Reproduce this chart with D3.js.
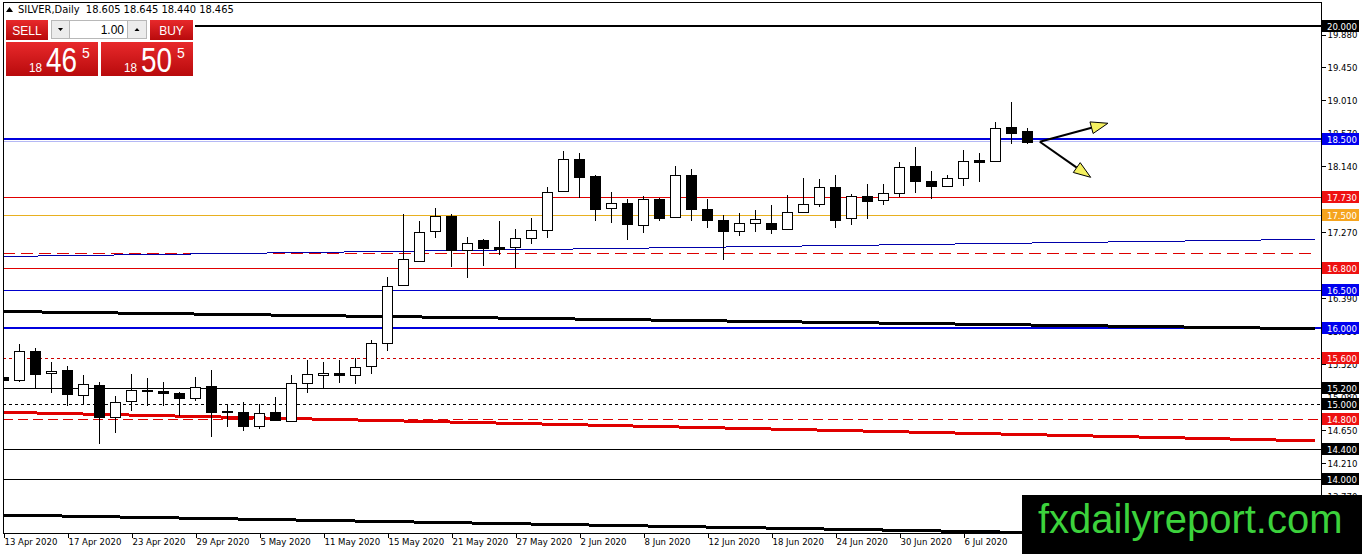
<!DOCTYPE html>
<html>
<head>
<meta charset="utf-8">
<script src="https://cdn.jsdelivr.net/npm/d3@7"></script>
<style>
body { margin: 0; background: #fff; }
svg { display: block; font-family: Tahoma, "DejaVu Sans Condensed", "DejaVu Sans", sans-serif; }
</style>
</head>
<body>
<svg id="chart" width="1362" height="554"></svg>
<script>
// ---- data ----
const symbol = "SILVER,Daily";
const lastOHLC = [18.605, 18.645, 18.440, 18.465];
const lotSize = "1.00";
const bidParts = ["18", "46", "5"];
const askParts = ["18", "50", "5"];

// one label every 4 bars, starting at bar 0
const dateLabels = ["13 Apr 2020", "17 Apr 2020", "23 Apr 2020", "29 Apr 2020", "5 May 2020",
  "11 May 2020", "15 May 2020", "21 May 2020", "27 May 2020", "2 Jun 2020", "8 Jun 2020",
  "12 Jun 2020", "18 Jun 2020", "24 Jun 2020", "30 Jun 2020", "6 Jul 2020"];

const open  = [15.35, 15.30, 15.70, 15.40, 15.44, 15.12, 15.24, 14.82, 15.03, 15.18,
               15.16, 15.14, 15.08, 15.23, 14.90, 14.89, 14.71, 14.89, 14.77, 15.27,
               15.39, 15.41, 15.38, 15.50, 15.80, 16.56, 16.89, 17.28, 17.48, 17.04,
               17.16, 17.07, 17.07, 17.19, 17.30, 17.82, 18.24, 18.01, 17.58, 17.65,
               17.35, 17.70, 17.47, 18.03, 17.58, 17.43, 17.28, 17.39, 17.39, 17.31,
               17.54, 17.64, 17.87, 17.45, 17.74, 17.69, 17.78, 18.14, 17.94, 17.87,
               17.98, 18.22, 18.20, 18.66, 18.605];
const high  = [15.42, 15.79, 15.73, 15.55, 15.50, 15.38, 15.29, 15.10, 15.39, 15.34,
               15.28, 15.15, 15.35, 15.45, 14.98, 15.02, 15.00, 15.09, 15.38, 15.57,
               15.55, 15.58, 15.60, 15.84, 16.67, 17.51, 17.42, 17.59, 17.51, 17.20,
               17.18, 17.41, 17.31, 17.46, 17.86, 18.34, 18.32, 18.03, 17.80, 17.70,
               17.75, 17.72, 18.14, 18.10, 17.70, 17.50, 17.52, 17.56, 17.63, 17.76,
               17.98, 17.97, 18.02, 17.77, 17.90, 17.91, 18.20, 18.39, 18.08, 18.03,
               18.35, 18.32, 18.73, 18.99, 18.645];
const low   = [15.07, 15.28, 15.19, 15.14, 14.97, 14.98, 14.47, 14.61, 14.90, 14.97,
               14.97, 14.83, 15.04, 14.56, 14.69, 14.64, 14.66, 14.77, 14.75, 15.14,
               15.21, 15.27, 15.26, 15.39, 15.70, 16.55, 16.89, 17.19, 16.81, 16.66,
               16.82, 16.97, 16.80, 17.11, 17.19, 17.81, 17.72, 17.41, 17.39, 17.16,
               17.25, 17.41, 17.46, 17.42, 17.32, 16.90, 17.22, 17.27, 17.24, 17.30,
               17.54, 17.60, 17.32, 17.36, 17.44, 17.63, 17.73, 17.78, 17.70, 17.87,
               17.88, 17.93, 18.19, 18.43, 18.440];
const close = [15.31, 15.69, 15.39, 15.43, 15.12, 15.26, 14.82, 15.02, 15.18, 15.17,
               15.14, 15.08, 15.22, 14.89, 14.885, 14.71, 14.88, 14.79, 15.27, 15.39,
               15.41, 15.38, 15.49, 15.80, 16.56, 16.91, 17.27, 17.48, 17.03, 17.13,
               17.05, 17.05, 17.19, 17.30, 17.80, 18.24, 18.00, 17.58, 17.65, 17.37,
               17.70, 17.45, 18.03, 17.58, 17.43, 17.29, 17.39, 17.44, 17.31, 17.54,
               17.64, 17.87, 17.43, 17.74, 17.68, 17.78, 18.13, 17.94, 17.88, 17.98,
               18.21, 18.19, 18.64, 18.58, 18.465];

const priceTicks = [19.880, 19.450, 19.010, 18.570, 18.140, 17.710, 17.270, 16.830,
                    16.390, 15.950, 15.520, 15.080, 14.650, 14.210, 13.770];

// horizontal levels with a price tag on the axis
const levelPrices = [20.000, 18.500, 17.730, 17.500, 16.800, 16.500, 16.000,
                     15.600, 15.200, 15.000, 14.800, 14.400, 14.000];
const levelKinds  = ["black2", "blue2", "red", "gold", "red", "blue", "blue2",
                     "reddot", "black", "blackdash", "reddash", "black", "black"];
// untagged dashed level
const plainLevel = 16.99;

// trend lines: price at bar 0 and at bar 82
const trendStart = [16.946, 16.218, 14.885, 13.526];
const trendEnd   = [17.173, 15.990, 14.507, 13.230];
const trendKinds = ["blueThin", "blackThick", "redThick", "blackThick"];
const trendEndBar = 82;

// arrows drawn on the chart: [bar, price]
const arrowFrom = [64.8, 18.464];
const arrowTo = [[69.06, 18.708], [67.98, 17.993]];

const watermark = "fxdailyreport.com";

// ---- layout ----
const W = 1362, H = 554;
const plot = { left: 3, top: 2, right: 1321, bottom: 533 };
const BAR_PX = 16;

const svg = d3.select("#chart");

const x = d3.scaleLinear()
  .domain([0, (plot.right - plot.left) / BAR_PX])
  .range([plot.left, plot.right]);
const y = d3.scaleLinear()
  .domain([13.288, 20.312])
  .range([plot.bottom, plot.top]);

const crisp = v => Math.round(v) + 0.5;

svg.append("defs").append("clipPath").attr("id", "plotclip")
  .append("rect")
  .attr("x", plot.left).attr("y", plot.top)
  .attr("width", plot.right - plot.left).attr("height", plot.bottom - plot.top);

const styles = {
  black2:    { color: "#000", width: 2, dash: null, tag: "#000" },
  blue2:     { color: "#0000dd", width: 2, dash: null, tag: "#0000ee" },
  red:       { color: "#e00000", width: 1, dash: null, tag: "#ee1111" },
  gold:      { color: "#e8b020", width: 1, dash: null, tag: "#f5a41e" },
  blue:      { color: "#0000cc", width: 1, dash: null, tag: "#0000ee" },
  reddot:    { color: "#cc0000", width: 1, dash: "3,3", tag: "#ee1111" },
  black:     { color: "#000", width: 1, dash: null, tag: "#000" },
  blackdash: { color: "#000", width: 1, dash: "3,3", tag: "#000" },
  reddash:   { color: "#dd0000", width: 1, dash: "10,5", tag: "#ee1111" },
  blueThin:  { color: "#0000aa", width: 1 },
  blackThick:{ color: "#000", width: 3 },
  redThick:  { color: "#e00000", width: 3 }
};

const g = svg.append("g").attr("clip-path", "url(#plotclip)");

// horizontal levels
const levelY = (d, i) => styles[levelKinds[i]].width === 2 ? Math.round(y(d)) : crisp(y(d));
g.selectAll("line.level")
  .data(levelPrices)
  .join("line")
  .attr("class", "level")
  .attr("x1", plot.left).attr("x2", plot.right)
  .attr("y1", levelY)
  .attr("y2", levelY)
  .attr("stroke", (d, i) => styles[levelKinds[i]].color)
  .attr("stroke-width", (d, i) => styles[levelKinds[i]].width)
  .attr("stroke-dasharray", (d, i) => styles[levelKinds[i]].dash)
  .attr("shape-rendering", "crispEdges");

// pale companion line under the 18.500 level
g.append("line")
  .attr("x1", plot.left).attr("x2", plot.right)
  .attr("y1", crisp(y(18.5)) + 2).attr("y2", crisp(y(18.5)) + 2)
  .attr("stroke", "#b4b8f4").attr("stroke-width", 1)
  .attr("shape-rendering", "crispEdges");

g.append("line")
  .attr("x1", plot.left).attr("x2", plot.right - 6)
  .attr("y1", crisp(y(plainLevel))).attr("y2", crisp(y(plainLevel)))
  .attr("stroke", "#dd0000").attr("stroke-width", 1)
  .attr("stroke-dasharray", "12,6")
  .attr("shape-rendering", "crispEdges");

// trend lines
g.selectAll("line.trend")
  .data(trendStart)
  .join("line")
  .attr("class", "trend")
  .attr("x1", x(0)).attr("x2", x(trendEndBar))
  .attr("y1", d => y(d))
  .attr("y2", (d, i) => y(trendEnd[i]))
  .attr("stroke", (d, i) => styles[trendKinds[i]].color)
  .attr("stroke-width", (d, i) => styles[trendKinds[i]].width)
  .attr("shape-rendering", "crispEdges");

// candles
const bars = d3.range(open.length);
const candle = g.selectAll("g.candle")
  .data(bars)
  .join("g")
  .attr("class", "candle")
  .attr("shape-rendering", "crispEdges");

candle.append("line")
  .attr("x1", i => crisp(x(i))).attr("x2", i => crisp(x(i)))
  .attr("y1", i => Math.round(y(high[i])))
  .attr("y2", i => Math.round(y(low[i])))
  .attr("stroke", "#000");

candle.append("rect")
  .attr("x", i => crisp(x(i)) - 5)
  .attr("width", 10)
  .attr("y", i => crisp(y(Math.max(open[i], close[i]))))
  .attr("height", i => Math.max(1, Math.round(Math.abs(y(open[i]) - y(close[i])))))
  .attr("fill", i => close[i] >= open[i] ? "#fff" : "#000")
  .attr("stroke", "#000");

// arrows
const arrowG = svg.append("g");
arrowTo.forEach(t => {
  const x0 = x(arrowFrom[0]), y0 = y(arrowFrom[1]);
  const x1 = x(t[0]), y1 = y(t[1]);
  const ang = Math.atan2(y1 - y0, x1 - x0);
  const len = 17, half = 6;
  const bx = x1 - len * Math.cos(ang), by = y1 - len * Math.sin(ang);
  arrowG.append("line")
    .attr("x1", x0).attr("y1", y0).attr("x2", bx).attr("y2", by)
    .attr("stroke", "#000").attr("stroke-width", 2);
  const pts = [
    [x1, y1],
    [bx + half * Math.sin(ang), by - half * Math.cos(ang)],
    [bx - half * Math.sin(ang), by + half * Math.cos(ang)]
  ];
  arrowG.append("path")
    .attr("d", "M" + pts.map(p => p.join(",")).join("L") + "Z")
    .attr("fill", "#f4f060").attr("stroke", "#000").attr("stroke-width", 1);
});

// frame
svg.append("rect")
  .attr("x", plot.left + 0.5).attr("y", plot.top + 0.5)
  .attr("width", plot.right - plot.left).attr("height", plot.bottom - plot.top)
  .attr("fill", "none").attr("stroke", "#000")
  .attr("shape-rendering", "crispEdges");

// right price axis
const yAxis = svg.append("g")
  .attr("transform", `translate(${plot.right + 0.5},0)`)
  .call(d3.axisRight(y).tickValues(priceTicks).tickFormat(d3.format(".3f")).tickSize(4).tickPadding(2));
yAxis.select(".domain").remove();
yAxis.selectAll("text").attr("font-size", 9.5).attr("fill", "#000")
  .attr("font-family", "Tahoma, 'DejaVu Sans Condensed', sans-serif");
yAxis.selectAll("line").attr("stroke", "#000").attr("shape-rendering", "crispEdges");

// price tags
const tags = svg.append("g");
tags.selectAll("rect")
  .data(levelPrices)
  .join("rect")
  .attr("x", plot.right + 1).attr("width", 37)
  .attr("y", d => Math.round(y(d)) - 6).attr("height", 12)
  .attr("fill", (d, i) => styles[levelKinds[i]].tag);
tags.selectAll("text")
  .data(levelPrices)
  .join("text")
  .attr("x", plot.right + 6)
  .attr("y", d => Math.round(y(d)) + 4)
  .attr("font-size", 9.5).attr("fill", "#fff")
  .text(d => d3.format(".3f")(d));

// bottom date axis
const xAxis = svg.append("g")
  .attr("transform", `translate(0,${plot.bottom + 0.5})`)
  .call(d3.axisBottom(x).tickValues(dateLabels.map((d, k) => k * 4))
    .tickFormat(i => dateLabels[i / 4]).tickSize(4).tickPadding(1));
xAxis.select(".domain").remove();
xAxis.selectAll("line").attr("stroke", "#000").attr("shape-rendering", "crispEdges")
  .attr("transform", "translate(0.5,0)");
xAxis.selectAll("text").attr("text-anchor", "start").attr("dx", 1)
  .attr("font-size", 9.5).attr("fill", "#000")
  .attr("font-family", "Tahoma, 'DejaVu Sans Condensed', sans-serif");

// header line
svg.append("path").attr("d", "M6,12L9.5,7L13,12Z").attr("fill", "#000");
svg.append("text")
  .attr("x", 18).attr("y", 13)
  .attr("font-size", 11).attr("fill", "#000")
  .attr("xml:space", "preserve")
  .text(symbol + "  " + lastOHLC.map(d3.format(".3f")).join(" "));

// trading panel
const defs = svg.select("defs");
const grad = defs.append("linearGradient").attr("id", "redgrad")
  .attr("x1", 0).attr("y1", 0).attr("x2", 0).attr("y2", 1);
grad.append("stop").attr("offset", "0%").attr("stop-color", "#e8292b");
grad.append("stop").attr("offset", "100%").attr("stop-color", "#b80a0c");

const panel = svg.append("g").attr("font-family", "'Liberation Sans', Arial, sans-serif");
panel.append("rect").attr("x", 4).attr("y", 18).attr("width", 191).attr("height", 60).attr("fill", "#fff");

panel.append("rect").attr("x", 6).attr("y", 20).attr("width", 42).attr("height", 20).attr("fill", "url(#redgrad)");
panel.append("text").attr("x", 27).attr("y", 34.5).attr("text-anchor", "middle")
  .attr("font-size", 12).attr("fill", "#fff").text("SELL");
panel.append("rect").attr("x", 150).attr("y", 20).attr("width", 43).attr("height", 20).attr("fill", "url(#redgrad)");
panel.append("text").attr("x", 171.5).attr("y", 34.5).attr("text-anchor", "middle")
  .attr("font-size", 12).attr("fill", "#fff").text("BUY");

panel.append("rect").attr("x", 51.5).attr("y", 20.5).attr("width", 18).attr("height", 18)
  .attr("fill", "#ececec").attr("stroke", "#b8b8b8");
panel.append("path").attr("d", "M58,28L63,28L60.5,31Z").attr("fill", "#000");
panel.append("rect").attr("x", 69.5).attr("y", 20.5).attr("width", 58).attr("height", 18)
  .attr("fill", "#fff").attr("stroke", "#b8b8b8");
panel.append("text").attr("x", 124).attr("y", 34).attr("text-anchor", "end")
  .attr("font-size", 12).attr("fill", "#000").text(lotSize);
panel.append("rect").attr("x", 127.5).attr("y", 20.5).attr("width", 19).attr("height", 18)
  .attr("fill", "#ececec").attr("stroke", "#b8b8b8");
panel.append("path").attr("d", "M134.5,31L139.5,31L137,28Z").attr("fill", "#000");

[[6, bidParts], [101, askParts]].forEach(([bx, parts]) => {
  panel.append("rect").attr("x", bx).attr("y", 42).attr("width", 92).attr("height", 34)
    .attr("fill", "url(#redgrad)");
  panel.append("text").attr("x", bx + 23).attr("y", 72).attr("fill", "#fff")
    .attr("font-size", 12).attr("textLength", 13).attr("lengthAdjust", "spacingAndGlyphs")
    .text(parts[0]);
  panel.append("text").attr("x", bx + 40).attr("y", 72).attr("fill", "#fff")
    .attr("font-size", 35).attr("textLength", 31).attr("lengthAdjust", "spacingAndGlyphs")
    .text(parts[1]);
  panel.append("text").attr("x", bx + 76).attr("y", 58).attr("fill", "#fff")
    .attr("font-size", 14).text(parts[2]);
});

// watermark
svg.append("rect").attr("x", 1022).attr("y", 495).attr("width", W - 1022).attr("height", H - 495)
  .attr("fill", "#000");
svg.append("text").attr("x", 1038).attr("y", 533)
  .attr("font-family", "'Liberation Sans', Arial, sans-serif")
  .attr("font-size", 40).attr("fill", "#3cd23c")
  .text(watermark);
</script>
</body>
</html>
